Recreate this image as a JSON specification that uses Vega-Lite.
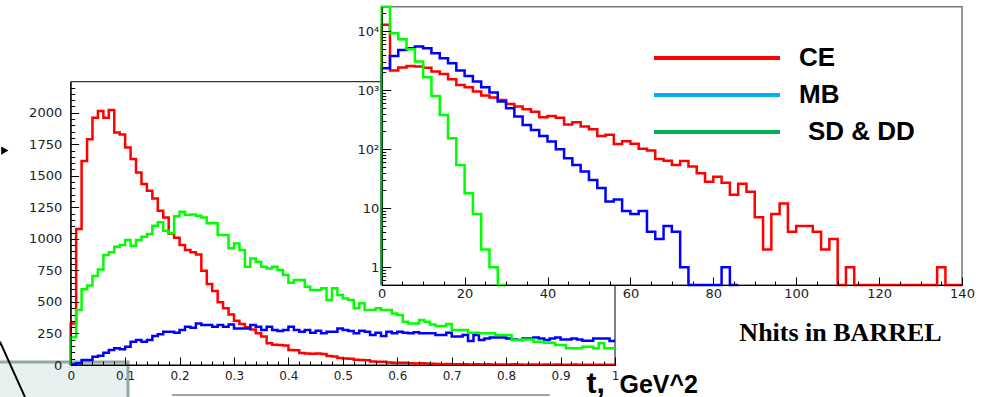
{
"$schema": "https://vega.github.io/schema/vega-lite/v6.json",
"width": 983, "height": 397, "autosize": "none", "padding": 0, "background": "white",
"config": {"view": {"stroke": null}, "mark": {"invalid": null},
"axis": {"grid": false, "domainColor": "#000000", "tickColor": "#000000", "labelColor": "#222222", "labelFont": "DejaVu Sans", "labelFlush": false, "labelOverlap": false, "zindex": 2}},
"datasets": {
"main": [
{"series":"CE","t":0,"n":0},{"series":"CE","t":0.01,"n":330},{"series":"CE","t":0.02,"n":1078},{"series":"CE","t":0.03,"n":1617},{"series":"CE","t":0.04,"n":1789},{"series":"CE","t":0.05,"n":1960},{"series":"CE","t":0.06,"n":2013},{"series":"CE","t":0.07,"n":1960},{"series":"CE","t":0.08,"n":2021},{"series":"CE","t":0.09,"n":1844},{"series":"CE","t":0.1,"n":1828},
{"series":"CE","t":0.11,"n":1725},{"series":"CE","t":0.12,"n":1633},{"series":"CE","t":0.13,"n":1527},{"series":"CE","t":0.14,"n":1435},{"series":"CE","t":0.15,"n":1382},{"series":"CE","t":0.16,"n":1321},{"series":"CE","t":0.17,"n":1223},{"series":"CE","t":0.18,"n":1170},{"series":"CE","t":0.19,"n":1040},{"series":"CE","t":0.2,"n":1009},
{"series":"CE","t":0.21,"n":951},{"series":"CE","t":0.22,"n":911},{"series":"CE","t":0.23,"n":893},{"series":"CE","t":0.24,"n":877},{"series":"CE","t":0.25,"n":748},{"series":"CE","t":0.26,"n":642},{"series":"CE","t":0.27,"n":587},{"series":"CE","t":0.28,"n":497},{"series":"CE","t":0.29,"n":449},{"series":"CE","t":0.3,"n":400},
{"series":"CE","t":0.31,"n":351},{"series":"CE","t":0.32,"n":325},{"series":"CE","t":0.33,"n":300},{"series":"CE","t":0.34,"n":282},{"series":"CE","t":0.35,"n":251},{"series":"CE","t":0.36,"n":225},{"series":"CE","t":0.37,"n":172},{"series":"CE","t":0.38,"n":160},{"series":"CE","t":0.39,"n":158},{"series":"CE","t":0.4,"n":155},
{"series":"CE","t":0.41,"n":119},{"series":"CE","t":0.42,"n":117},{"series":"CE","t":0.43,"n":95},{"series":"CE","t":0.44,"n":92},{"series":"CE","t":0.45,"n":90},{"series":"CE","t":0.46,"n":92},{"series":"CE","t":0.47,"n":88},{"series":"CE","t":0.48,"n":71},{"series":"CE","t":0.49,"n":68},{"series":"CE","t":0.5,"n":55},
{"series":"CE","t":0.51,"n":52},{"series":"CE","t":0.52,"n":50},{"series":"CE","t":0.53,"n":42},{"series":"CE","t":0.54,"n":40},{"series":"CE","t":0.55,"n":38},{"series":"CE","t":0.56,"n":28},{"series":"CE","t":0.57,"n":26},{"series":"CE","t":0.58,"n":25},{"series":"CE","t":0.59,"n":19},{"series":"CE","t":0.6,"n":18},
{"series":"CE","t":0.61,"n":17},{"series":"CE","t":0.62,"n":18},{"series":"CE","t":0.63,"n":13},{"series":"CE","t":0.64,"n":12},{"series":"CE","t":0.65,"n":13},{"series":"CE","t":0.66,"n":11},{"series":"CE","t":0.67,"n":9},{"series":"CE","t":0.68,"n":7},{"series":"CE","t":0.69,"n":6},{"series":"CE","t":0.7,"n":8},
{"series":"CE","t":0.71,"n":5},{"series":"CE","t":0.72,"n":6},{"series":"CE","t":0.73,"n":5},{"series":"CE","t":0.74,"n":4},{"series":"CE","t":0.75,"n":6},{"series":"CE","t":0.76,"n":4},{"series":"CE","t":0.77,"n":5},{"series":"CE","t":0.78,"n":3},{"series":"CE","t":0.79,"n":4},{"series":"CE","t":0.8,"n":4},
{"series":"CE","t":0.81,"n":3},{"series":"CE","t":0.82,"n":5},{"series":"CE","t":0.83,"n":3},{"series":"CE","t":0.84,"n":2},{"series":"CE","t":0.85,"n":3},{"series":"CE","t":0.86,"n":4},{"series":"CE","t":0.87,"n":2},{"series":"CE","t":0.88,"n":3},{"series":"CE","t":0.89,"n":2},{"series":"CE","t":0.9,"n":3},
{"series":"CE","t":0.91,"n":2},{"series":"CE","t":0.92,"n":2},{"series":"CE","t":0.93,"n":3},{"series":"CE","t":0.94,"n":1},{"series":"CE","t":0.95,"n":2},{"series":"CE","t":0.96,"n":2},{"series":"CE","t":0.97,"n":1},{"series":"CE","t":0.98,"n":2},{"series":"CE","t":0.99,"n":1},{"series":"CE","t":1,"n":2},
{"series":"MB","t":0,"n":0},{"series":"MB","t":0.01,"n":5},{"series":"MB","t":0.02,"n":13},{"series":"MB","t":0.03,"n":40},{"series":"MB","t":0.04,"n":40},{"series":"MB","t":0.05,"n":66},{"series":"MB","t":0.06,"n":74},{"series":"MB","t":0.07,"n":98},{"series":"MB","t":0.08,"n":119},{"series":"MB","t":0.09,"n":132},{"series":"MB","t":0.1,"n":124},
{"series":"MB","t":0.11,"n":145},{"series":"MB","t":0.12,"n":185},{"series":"MB","t":0.13,"n":198},{"series":"MB","t":0.14,"n":185},{"series":"MB","t":0.15,"n":198},{"series":"MB","t":0.16,"n":230},{"series":"MB","t":0.17,"n":243},{"series":"MB","t":0.18,"n":264},{"series":"MB","t":0.19,"n":264},{"series":"MB","t":0.2,"n":256},
{"series":"MB","t":0.21,"n":277},{"series":"MB","t":0.22,"n":304},{"series":"MB","t":0.23,"n":296},{"series":"MB","t":0.24,"n":330},{"series":"MB","t":0.25,"n":317},{"series":"MB","t":0.26,"n":317},{"series":"MB","t":0.27,"n":304},{"series":"MB","t":0.28,"n":317},{"series":"MB","t":0.29,"n":304},{"series":"MB","t":0.3,"n":322},
{"series":"MB","t":0.31,"n":290},{"series":"MB","t":0.32,"n":290},{"series":"MB","t":0.33,"n":290},{"series":"MB","t":0.34,"n":317},{"series":"MB","t":0.35,"n":304},{"series":"MB","t":0.36,"n":277},{"series":"MB","t":0.37,"n":304},{"series":"MB","t":0.38,"n":277},{"series":"MB","t":0.39,"n":269},{"series":"MB","t":0.4,"n":277},
{"series":"MB","t":0.41,"n":304},{"series":"MB","t":0.42,"n":277},{"series":"MB","t":0.43,"n":264},{"series":"MB","t":0.44,"n":277},{"series":"MB","t":0.45,"n":256},{"series":"MB","t":0.46,"n":272},{"series":"MB","t":0.47,"n":251},{"series":"MB","t":0.48,"n":264},{"series":"MB","t":0.49,"n":264},{"series":"MB","t":0.5,"n":290},
{"series":"MB","t":0.51,"n":277},{"series":"MB","t":0.52,"n":269},{"series":"MB","t":0.53,"n":251},{"series":"MB","t":0.54,"n":272},{"series":"MB","t":0.55,"n":264},{"series":"MB","t":0.56,"n":238},{"series":"MB","t":0.57,"n":256},{"series":"MB","t":0.58,"n":230},{"series":"MB","t":0.59,"n":264},{"series":"MB","t":0.6,"n":251},
{"series":"MB","t":0.61,"n":264},{"series":"MB","t":0.62,"n":256},{"series":"MB","t":0.63,"n":251},{"series":"MB","t":0.64,"n":260},{"series":"MB","t":0.65,"n":251},{"series":"MB","t":0.66,"n":251},{"series":"MB","t":0.67,"n":251},{"series":"MB","t":0.68,"n":238},{"series":"MB","t":0.69,"n":238},{"series":"MB","t":0.7,"n":256},
{"series":"MB","t":0.71,"n":225},{"series":"MB","t":0.72,"n":225},{"series":"MB","t":0.73,"n":238},{"series":"MB","t":0.74,"n":190},{"series":"MB","t":0.75,"n":238},{"series":"MB","t":0.76,"n":198},{"series":"MB","t":0.77,"n":211},{"series":"MB","t":0.78,"n":219},{"series":"MB","t":0.79,"n":219},{"series":"MB","t":0.8,"n":219},
{"series":"MB","t":0.81,"n":211},{"series":"MB","t":0.82,"n":203},{"series":"MB","t":0.83,"n":198},{"series":"MB","t":0.84,"n":211},{"series":"MB","t":0.85,"n":211},{"series":"MB","t":0.86,"n":219},{"series":"MB","t":0.87,"n":211},{"series":"MB","t":0.88,"n":198},{"series":"MB","t":0.89,"n":211},{"series":"MB","t":0.9,"n":219},
{"series":"MB","t":0.91,"n":203},{"series":"MB","t":0.92,"n":203},{"series":"MB","t":0.93,"n":211},{"series":"MB","t":0.94,"n":203},{"series":"MB","t":0.95,"n":193},{"series":"MB","t":0.96,"n":193},{"series":"MB","t":0.97,"n":211},{"series":"MB","t":0.98,"n":211},{"series":"MB","t":0.99,"n":211},{"series":"MB","t":1,"n":190},
{"series":"SD & DD","t":0,"n":0},{"series":"SD & DD","t":0.01,"n":220},{"series":"SD & DD","t":0.02,"n":436},{"series":"SD & DD","t":0.03,"n":600},{"series":"SD & DD","t":0.04,"n":631},{"series":"SD & DD","t":0.05,"n":705},{"series":"SD & DD","t":0.06,"n":758},{"series":"SD & DD","t":0.07,"n":872},{"series":"SD & DD","t":0.08,"n":893},{"series":"SD & DD","t":0.09,"n":938},{"series":"SD & DD","t":0.1,"n":951},
{"series":"SD & DD","t":0.11,"n":991},{"series":"SD & DD","t":0.12,"n":946},{"series":"SD & DD","t":0.13,"n":991},{"series":"SD & DD","t":0.14,"n":1017},{"series":"SD & DD","t":0.15,"n":1038},{"series":"SD & DD","t":0.16,"n":1104},{"series":"SD & DD","t":0.17,"n":1131},{"series":"SD & DD","t":0.18,"n":1065},{"series":"SD & DD","t":0.19,"n":1044},{"series":"SD & DD","t":0.2,"n":1180},
{"series":"SD & DD","t":0.21,"n":1215},{"series":"SD & DD","t":0.22,"n":1190},{"series":"SD & DD","t":0.23,"n":1194},{"series":"SD & DD","t":0.24,"n":1184},{"series":"SD & DD","t":0.25,"n":1170},{"series":"SD & DD","t":0.26,"n":1123},{"series":"SD & DD","t":0.27,"n":1123},{"series":"SD & DD","t":0.28,"n":1030},{"series":"SD & DD","t":0.29,"n":1030},{"series":"SD & DD","t":0.3,"n":925},
{"series":"SD & DD","t":0.31,"n":964},{"series":"SD & DD","t":0.32,"n":911},{"series":"SD & DD","t":0.33,"n":779},{"series":"SD & DD","t":0.34,"n":845},{"series":"SD & DD","t":0.35,"n":819},{"series":"SD & DD","t":0.36,"n":779},{"series":"SD & DD","t":0.37,"n":766},{"series":"SD & DD","t":0.38,"n":779},{"series":"SD & DD","t":0.39,"n":753},{"series":"SD & DD","t":0.4,"n":713},
{"series":"SD & DD","t":0.41,"n":653},{"series":"SD & DD","t":0.42,"n":674},{"series":"SD & DD","t":0.43,"n":674},{"series":"SD & DD","t":0.44,"n":621},{"series":"SD & DD","t":0.45,"n":594},{"series":"SD & DD","t":0.46,"n":594},{"series":"SD & DD","t":0.47,"n":608},{"series":"SD & DD","t":0.48,"n":515},{"series":"SD & DD","t":0.49,"n":608},{"series":"SD & DD","t":0.5,"n":555},
{"series":"SD & DD","t":0.51,"n":528},{"series":"SD & DD","t":0.52,"n":515},{"series":"SD & DD","t":0.53,"n":449},{"series":"SD & DD","t":0.54,"n":489},{"series":"SD & DD","t":0.55,"n":436},{"series":"SD & DD","t":0.56,"n":436},{"series":"SD & DD","t":0.57,"n":449},{"series":"SD & DD","t":0.58,"n":436},{"series":"SD & DD","t":0.59,"n":436},{"series":"SD & DD","t":0.6,"n":409},
{"series":"SD & DD","t":0.61,"n":396},{"series":"SD & DD","t":0.62,"n":343},{"series":"SD & DD","t":0.63,"n":330},{"series":"SD & DD","t":0.64,"n":330},{"series":"SD & DD","t":0.65,"n":357},{"series":"SD & DD","t":0.66,"n":343},{"series":"SD & DD","t":0.67,"n":322},{"series":"SD & DD","t":0.68,"n":309},{"series":"SD & DD","t":0.69,"n":309},{"series":"SD & DD","t":0.7,"n":325},
{"series":"SD & DD","t":0.71,"n":277},{"series":"SD & DD","t":0.72,"n":277},{"series":"SD & DD","t":0.73,"n":277},{"series":"SD & DD","t":0.74,"n":256},{"series":"SD & DD","t":0.75,"n":256},{"series":"SD & DD","t":0.76,"n":251},{"series":"SD & DD","t":0.77,"n":251},{"series":"SD & DD","t":0.78,"n":251},{"series":"SD & DD","t":0.79,"n":238},{"series":"SD & DD","t":0.8,"n":238},
{"series":"SD & DD","t":0.81,"n":238},{"series":"SD & DD","t":0.82,"n":198},{"series":"SD & DD","t":0.83,"n":198},{"series":"SD & DD","t":0.84,"n":203},{"series":"SD & DD","t":0.85,"n":203},{"series":"SD & DD","t":0.86,"n":185},{"series":"SD & DD","t":0.87,"n":185},{"series":"SD & DD","t":0.88,"n":177},{"series":"SD & DD","t":0.89,"n":177},{"series":"SD & DD","t":0.9,"n":159},
{"series":"SD & DD","t":0.91,"n":159},{"series":"SD & DD","t":0.92,"n":132},{"series":"SD & DD","t":0.93,"n":132},{"series":"SD & DD","t":0.94,"n":132},{"series":"SD & DD","t":0.95,"n":145},{"series":"SD & DD","t":0.96,"n":145},{"series":"SD & DD","t":0.97,"n":132},{"series":"SD & DD","t":0.98,"n":172},{"series":"SD & DD","t":0.99,"n":132},{"series":"SD & DD","t":1,"n":132}
],
"inset": [
{"series":"CE","nhits":0,"n":0},{"series":"CE","nhits":2,"n":12800},{"series":"CE","nhits":4,"n":2150},{"series":"CE","nhits":6,"n":2420},{"series":"CE","nhits":8,"n":2570},{"series":"CE","nhits":10,"n":2510},{"series":"CE","nhits":12,"n":2400},{"series":"CE","nhits":14,"n":2070},{"series":"CE","nhits":16,"n":1890},{"series":"CE","nhits":18,"n":1540},{"series":"CE","nhits":20,"n":1230},
{"series":"CE","nhits":22,"n":1125},{"series":"CE","nhits":24,"n":947},{"series":"CE","nhits":26,"n":811},{"series":"CE","nhits":28,"n":750},{"series":"CE","nhits":30,"n":685},{"series":"CE","nhits":32,"n":586},{"series":"CE","nhits":34,"n":527},{"series":"CE","nhits":36,"n":476},{"series":"CE","nhits":38,"n":433},{"series":"CE","nhits":40,"n":348},
{"series":"CE","nhits":42,"n":367},{"series":"CE","nhits":44,"n":340},{"series":"CE","nhits":46,"n":262},{"series":"CE","nhits":48,"n":285},{"series":"CE","nhits":50,"n":242},{"series":"CE","nhits":52,"n":218},{"series":"CE","nhits":54,"n":168},{"series":"CE","nhits":56,"n":175},{"series":"CE","nhits":58,"n":122},{"series":"CE","nhits":60,"n":136},
{"series":"CE","nhits":62,"n":124},{"series":"CE","nhits":64,"n":102},{"series":"CE","nhits":66,"n":95},{"series":"CE","nhits":68,"n":68},{"series":"CE","nhits":70,"n":64},{"series":"CE","nhits":72,"n":54},{"series":"CE","nhits":74,"n":63},{"series":"CE","nhits":76,"n":51},{"series":"CE","nhits":78,"n":39},{"series":"CE","nhits":80,"n":28},
{"series":"CE","nhits":82,"n":34},{"series":"CE","nhits":84,"n":27},{"series":"CE","nhits":86,"n":17},{"series":"CE","nhits":88,"n":26},{"series":"CE","nhits":90,"n":19},{"series":"CE","nhits":92,"n":7},{"series":"CE","nhits":94,"n":2},{"series":"CE","nhits":96,"n":8},{"series":"CE","nhits":98,"n":12},{"series":"CE","nhits":100,"n":4},
{"series":"CE","nhits":102,"n":5},{"series":"CE","nhits":104,"n":5},{"series":"CE","nhits":106,"n":4},{"series":"CE","nhits":108,"n":2},{"series":"CE","nhits":110,"n":3},{"series":"CE","nhits":112,"n":0},{"series":"CE","nhits":114,"n":1},{"series":"CE","nhits":116,"n":0},{"series":"CE","nhits":118,"n":0},{"series":"CE","nhits":120,"n":0},
{"series":"CE","nhits":122,"n":0},{"series":"CE","nhits":124,"n":0},{"series":"CE","nhits":126,"n":0},{"series":"CE","nhits":128,"n":0},{"series":"CE","nhits":130,"n":0},{"series":"CE","nhits":132,"n":0},{"series":"CE","nhits":134,"n":0},{"series":"CE","nhits":136,"n":1},{"series":"CE","nhits":138,"n":0},{"series":"CE","nhits":140,"n":0},
{"series":"MB","nhits":0,"n":0},{"series":"MB","nhits":2,"n":2360},{"series":"MB","nhits":4,"n":3810},{"series":"MB","nhits":6,"n":4820},{"series":"MB","nhits":8,"n":5130},{"series":"MB","nhits":10,"n":5480},{"series":"MB","nhits":12,"n":5130},{"series":"MB","nhits":14,"n":4230},{"series":"MB","nhits":16,"n":3480},{"series":"MB","nhits":18,"n":2870},{"series":"MB","nhits":20,"n":2150},
{"series":"MB","nhits":22,"n":1745},{"series":"MB","nhits":24,"n":1400},{"series":"MB","nhits":26,"n":1125},{"series":"MB","nhits":28,"n":912},{"series":"MB","nhits":30,"n":641},{"series":"MB","nhits":32,"n":495},{"series":"MB","nhits":34,"n":357},{"series":"MB","nhits":36,"n":258},{"series":"MB","nhits":38,"n":212},{"series":"MB","nhits":40,"n":168},
{"series":"MB","nhits":42,"n":135},{"series":"MB","nhits":44,"n":100},{"series":"MB","nhits":46,"n":70},{"series":"MB","nhits":48,"n":54},{"series":"MB","nhits":50,"n":42},{"series":"MB","nhits":52,"n":30},{"series":"MB","nhits":54,"n":22},{"series":"MB","nhits":56,"n":13},{"series":"MB","nhits":58,"n":14},{"series":"MB","nhits":60,"n":9},
{"series":"MB","nhits":62,"n":8},{"series":"MB","nhits":64,"n":9},{"series":"MB","nhits":66,"n":4},{"series":"MB","nhits":68,"n":3},{"series":"MB","nhits":70,"n":5},{"series":"MB","nhits":72,"n":4},{"series":"MB","nhits":74,"n":1},{"series":"MB","nhits":76,"n":0},{"series":"MB","nhits":82,"n":0},{"series":"MB","nhits":84,"n":1},{"series":"MB","nhits":86,"n":0},
{"series":"SD & DD","nhits":0,"n":0},{"series":"SD & DD","nhits":2,"n":40000},{"series":"SD & DD","nhits":4,"n":9250},{"series":"SD & DD","nhits":6,"n":7310},{"series":"SD & DD","nhits":8,"n":4950},{"series":"SD & DD","nhits":10,"n":3050},{"series":"SD & DD","nhits":12,"n":1660},{"series":"SD & DD","nhits":14,"n":800},{"series":"SD & DD","nhits":16,"n":381},{"series":"SD & DD","nhits":18,"n":154},{"series":"SD & DD","nhits":20,"n":54},
{"series":"SD & DD","nhits":22,"n":18},{"series":"SD & DD","nhits":24,"n":8},{"series":"SD & DD","nhits":26,"n":2},{"series":"SD & DD","nhits":28,"n":1},{"series":"SD & DD","nhits":30,"n":0}
]
},
"layer": [
{
"layer": [
{
"data": {"values": [{}]},
"mark": {"type": "rect", "fill": "#e9f0f0", "stroke": "#8fa8a8", "strokeWidth": 3},
"encoding": {
"x": {"datum": -0.14, "type": "quantitative", "scale": {"domain": [0, 1], "range": [70.7, 615], "nice": false, "zero": false}},
"x2": {"datum": 0.1053},
"y": {"datum": 24, "type": "quantitative", "scale": {"domain": [0, 2246], "range": [365, 81.7], "nice": false, "zero": false}},
"y2": {"datum": -300}
}
},
{
"data": {"values": [{}]},
"mark": {"type": "rule", "stroke": "#000000", "strokeWidth": 2},
"encoding": {"x": {"datum": -0.13}, "x2": {"datum": -0.084}, "y": {"datum": 185}, "y2": {"datum": -254}}
},
{
"data": {"values": [{}]},
"mark": {"type": "rule", "stroke": "#444444", "strokeWidth": 1},
"encoding": {"x": {"datum": 0.186}, "x2": {"datum": 0.88}, "y": {"datum": -238}, "y2": {"datum": -238}}
},
{
"data": {"values": [{}]},
"mark": {"type": "point", "shape": "triangle-right", "filled": true, "color": "#000000", "size": 70, "opacity": 1},
"encoding": {"x": {"datum": -0.121}, "y": {"datum": 1700}}
},
{
"data": {"values": [{}]},
"mark": {"type": "rect", "filled": false, "stroke": "#000000", "strokeWidth": 1},
"encoding": {
"x": {"datum": 0, "type": "quantitative",
"axis": {"orient": "bottom", "offset": -32, "zindex": 2,
"values": [0,0.1,0.2,0.3,0.4,0.5,0.6,0.7,0.8,0.9,1],
"labelExpr": "format(datum.value, '~g')",
"tickSize": -8, "labelPadding": 13, "labelFontSize": 12,
"title": "t,", "titleFont": "Liberation Sans", "titleFontSize": 30, "titleFontWeight": "bold", "titleColor": "#000000",
"titleAlign": "left", "titleBaseline": "alphabetic", "titleX": 586, "titleY": 27}},
"x2": {"datum": 1},
"y": {"datum": 0, "type": "quantitative",
"axis": {"orient": "left", "offset": -70.7, "zindex": 2,
"values": [0,250,500,750,1000,1250,1500,1750,2000],
"format": "d",
"tickSize": -8, "labelPadding": 17, "labelFontSize": 13, "title": null}},
"y2": {"datum": 2246}
}
},
{
"data": {"name": "main"},
"mark": {"type": "line", "interpolate": "step-before", "strokeWidth": 2.5},
"encoding": {
"x": {"field": "t", "type": "quantitative"},
"y": {"field": "n", "type": "quantitative"},
"color": {"field": "series", "type": "nominal", "scale": {"domain": ["SD & DD", "MB", "CE"], "range": ["#00ff00", "#0000ff", "#ff0000"]}, "legend": null},
"order": {"field": "t"}
}
}
]
},
{
"data": {"values": [{}]},
"mark": {"type": "point", "opacity": 0},
"encoding": {
"x": {"datum": 0, "type": "quantitative", "scale": {"domain": [0, 1], "range": [70.7, 615], "nice": false, "zero": false},
"axis": {"orient": "bottom", "offset": -32, "zindex": 2, "labels": false, "domain": false, "tickSize": -4,
"values": [0.02,0.04,0.06,0.08,0.12,0.14,0.16,0.18,0.22,0.24,0.26,0.28,0.32,0.34,0.36,0.38,0.42,0.44,0.46,0.48,0.52,0.54,0.56,0.58,0.62,0.64,0.66,0.68,0.72,0.74,0.76,0.78,0.82,0.84,0.86,0.88,0.92,0.94,0.96,0.98],
"title": "GeV^2", "titleFont": "Liberation Sans", "titleFontSize": 25, "titleFontWeight": "bold", "titleColor": "#000000",
"titleAlign": "left", "titleBaseline": "alphabetic", "titleX": 619, "titleY": 27}},
"y": {"datum": 0, "type": "quantitative", "scale": {"domain": [0, 2246], "range": [365, 81.7], "nice": false, "zero": false},
"axis": {"orient": "left", "offset": -70.7, "zindex": 2, "labels": false, "domain": false, "tickSize": -4, "title": null,
"values": [50,100,150,200,300,350,400,450,550,600,650,700,800,850,900,950,1050,1100,1150,1200,1300,1350,1400,1450,1550,1600,1650,1700,1800,1850,1900,1950,2050,2100,2150,2200]}}
}
},
{
"layer": [
{
"data": {"values": [{}]},
"mark": {"type": "rect", "fill": "#ffffff", "stroke": "#777777", "strokeWidth": 1.5},
"encoding": {
"x": {"datum": 0, "type": "quantitative", "scale": {"domain": [0, 140], "range": [381.7, 962], "nice": false, "zero": false},
"axis": {"orient": "bottom", "offset": -112, "zindex": 2,
"values": [0,20,40,60,80,100,120,140],
"tickSize": -8, "labelPadding": 10, "labelFontSize": 13,
"title": "Nhits in BARREL", "titleFont": "Liberation Serif", "titleFontSize": 26, "titleFontWeight": "bold", "titleColor": "#000000",
"titleAlign": "center", "titleBaseline": "alphabetic", "titleX": 840, "titleY": 55}},
"x2": {"datum": 140},
"y": {"datum": 0.5, "type": "quantitative", "scale": {"type": "log", "domain": [0.5, 26000], "range": [285, 6.7], "nice": false, "clamp": true},
"axis": {"orient": "left", "offset": -381.7, "zindex": 2,
"values": [1,10,100,1000,10000],
"labelExpr": "datum.value == 10000 ? '10⁴' : datum.value == 1000 ? '10³' : datum.value == 100 ? '10²' : datum.value == 10 ? '10' : '1'",
"tickSize": -9, "labelPadding": 12, "labelFontSize": 13, "title": null}},
"y2": {"datum": 26000}
}
},
{
"data": {"name": "inset"},
"mark": {"type": "line", "interpolate": "step-before", "strokeWidth": 2.5},
"encoding": {
"x": {"field": "nhits", "type": "quantitative"},
"y": {"field": "n", "type": "quantitative"},
"color": {"field": "series", "type": "nominal", "scale": {"domain": ["SD & DD", "MB", "CE"], "range": ["#00ff00", "#0000ff", "#ff0000"]}, "legend": null},
"order": {"field": "nhits"}
}
},
{
"data": {"name": "inset"},
"mark": {"type": "line", "opacity": 0},
"encoding": {
"x": {"datum": 70},
"y": {"datum": 1000},
"stroke": {"field": "series", "type": "nominal",
"scale": {"domain": ["CE", "MB", "SD & DD"], "range": ["#ff0000", "#00b0f0", "#00b050"]},
"legend": {"title": null, "orient": "none", "legendX": 702, "legendY": 43, "direction": "vertical", "padding": 0,
"symbolType": "M-5,0H5", "symbolSize": 635, "symbolStrokeWidth": 4, "symbolOpacity": 1, "symbolFillColor": "transparent",
"labelFont": "Liberation Sans", "labelFontSize": 26, "labelFontWeight": "bold", "labelColor": "#000000",
"labelOffset": 67, "labelLimit": 0, "rowPadding": 9,
"encode": {"labels": {"update": {"dx": {"signal": "datum.value == 'SD & DD' ? 9 : 0"}}}}}}
}
}
]
},
{
"data": {"values": [{}]},
"mark": {"type": "point", "opacity": 0},
"encoding": {
"x": {"datum": 0, "type": "quantitative", "scale": {"domain": [0, 140], "range": [381.7, 962], "nice": false, "zero": false},
"axis": {"orient": "bottom", "offset": -112, "zindex": 2, "labels": false, "domain": false, "tickSize": -4, "title": null,
"values": [5,10,15,25,30,35,45,50,55,65,70,75,85,90,95,105,110,115,125,130,135]}},
"y": {"datum": 1, "type": "quantitative", "scale": {"type": "log", "domain": [0.5, 26000], "range": [285, 6.7], "nice": false, "clamp": true},
"axis": {"orient": "left", "offset": -381.7, "zindex": 2, "labels": false, "domain": false, "tickSize": -4, "title": null,
"values": [0.6,0.7,0.8,0.9,2,3,4,5,6,7,8,9,20,30,40,50,60,70,80,90,200,300,400,500,600,700,800,900,2000,3000,4000,5000,6000,7000,8000,9000,20000]}}
}
}
],
"resolve": {"scale": {"x": "independent", "y": "independent"}}
}
